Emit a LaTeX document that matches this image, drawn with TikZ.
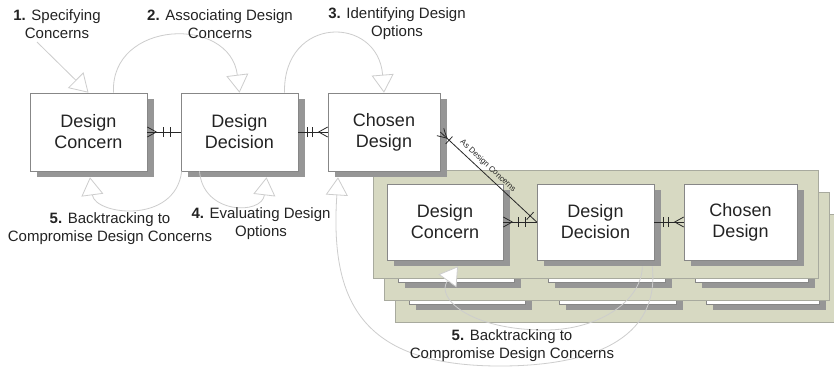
\documentclass[tikz,border=0pt]{standalone}
\usepackage{fontspec}
\setmainfont{Liberation Sans}
\usetikzlibrary{arrows.meta,calc}
\definecolor{panelfill}{RGB}{215,217,194}
\definecolor{paneldraw}{RGB}{168,170,158}
\definecolor{shadowgray}{RGB}{150,150,150}
\definecolor{boxdraw}{RGB}{135,135,135}
\definecolor{flowgray}{RGB}{205,205,205}
\definecolor{inkc}{RGB}{40,40,40}
\definecolor{textc}{RGB}{35,35,35}
\newcommand\crowfoot[2]{\draw[conn] ($(#1)!5pt!90:(#2)$) -- ($(#1)!9pt!(#2)$) -- ($(#1)!5pt!-90:(#2)$);}
\newcommand\tickbar[3]{\draw[conn] ($(#1)!#3!(#2)!5pt!90:(#2)$) -- ($(#1)!#3!(#2)!5pt!-90:(#2)$);}
\begin{document}
\begin{tikzpicture}[x=1pt,y=-1pt,
  shadowed/.style={preaction={fill=shadowgray, draw=none, transform canvas={xshift=7pt,yshift=-6pt}}},
  box/.style={shadowed, draw=boxdraw, line width=0.6pt, fill=white, minimum height=78pt, inner sep=0pt, align=center, text=textc, font=\fontsize{18}{21}\selectfont},
  ibox/.style={box, minimum height=76pt},
  panel/.style={draw=paneldraw, line width=0.7pt, fill=panelfill, minimum width=445pt, minimum height=108pt, inner sep=0pt, anchor=north west},
  lbl/.style={align=center, inner sep=0pt, text=textc, font=\fontsize{15}{18}\selectfont},
  flow/.style={draw=flowgray, line width=0.8pt, -{Triangle[open, fill=white, length=18pt, width=22pt]}},
  conn/.style={draw=inkc, line width=0.8pt},
]
\useasboundingbox (0,0) rectangle (834,368);
\fill[white] (0,0) rectangle (834,368);

% stacked panels (back to front)
\node[panel] (p3) at (395,214) {};
\node[ibox, minimum width=116pt] (dc3) at (467,266) {};
\node[ibox, minimum width=117pt] (dd3) at (617.5,266) {};
\node[ibox, minimum width=113pt] (cd3) at (762.5,266) {};
\node[panel] (p2) at (384,192) {};
\node[ibox, minimum width=116pt] (dc2b) at (456,244) {};
\node[ibox, minimum width=117pt] (dd2b) at (606.5,244) {};
\node[ibox, minimum width=113pt] (cd2b) at (751.5,244) {};
\node[panel] (p1) at (373,170) {};
\node[ibox, minimum width=116pt] (dc2) at (445,222) {Design\\Concern};
\node[ibox, minimum width=117pt] (dd2) at (595.5,222) {Design\\Decision};
\node[ibox, minimum width=113pt] (cd2) at (740.5,222) {Chosen\\Design};

% top row
\node[box, minimum width=117pt] (dc) at (88.5,132) {Design\\Concern};
\node[box, minimum width=117pt] (dd) at (239.5,132) {Design\\Decision};
\node[box, minimum width=112pt] (cd) at (384,132) {Chosen\\Design};

% ER connectors
\draw[conn] (dc.east) -- (dd.west);
\crowfoot{dc.east}{dd.west}
\tickbar{dc.east}{dd.west}{16pt}
\tickbar{dc.east}{dd.west}{23pt}
\draw[conn] (dd.east) -- (cd.west);
\crowfoot{cd.west}{dd.east}
\tickbar{cd.west}{dd.east}{15pt}
\tickbar{cd.west}{dd.east}{20pt}
\draw[conn] (dc2.east) -- (dd2.west);
\crowfoot{dc2.east}{dd2.west}
\tickbar{dc2.east}{dd2.west}{15pt}
\tickbar{dc2.east}{dd2.west}{22pt}
\draw[conn] (dd2.east) -- (cd2.west);
\crowfoot{cd2.west}{dd2.east}
\tickbar{cd2.west}{dd2.east}{15pt}
\tickbar{cd2.west}{dd2.east}{20pt}
\draw[conn] (cd.east) -- node[sloped, above=3.5pt, pos=0.44, inner sep=0pt, text=textc, font=\fontsize{8}{9}\selectfont] {As Design Concerns} (dd2.west);
\crowfoot{cd.east}{dd2.west}
\tickbar{cd.east}{dd2.west}{12pt}
\tickbar{dd2.west}{cd.east}{9pt}

% process arrows
\coordinate (s1) at (37,42);
\draw[flow] (s1) -- (dc.north);
\draw[flow] ([xshift=25pt]dc.north) .. controls (110,20) and (230,15) .. (dd.north);
\draw[flow] ([xshift=45pt]dd.north) .. controls (283,15) and (378,15) .. (cd.north);
\draw[flow] ([xshift=-40pt]dd.south) .. controls (203,215) and (262,215) .. ([xshift=27pt,yshift=-6pt]dd.south);
\draw[flow] ([xshift=1pt]dd.south west) .. controls (175,225) and (95,215) .. ([xshift=1.5pt,yshift=-6pt]dc.south);
\draw[flow] ([xshift=-2pt,yshift=-6pt]dd2.south east) .. controls (660,340) and (590,366) .. (500,366) .. controls (360,366) and (330,300) .. ([xshift=-46pt,yshift=-6pt]cd.south);
\draw[flow] ([xshift=-12pt,yshift=-6pt]dd2.south east) .. controls (642,300) and (600,330) .. (545,330) .. controls (470,330) and (435,298) .. ([xshift=13pt,yshift=-6pt]dc2.south);

% labels
\node[lbl] (l1) at (57,24) {\textbf{1.} Specifying\\Concerns};
\node[lbl] (l2) at (220,24) {\textbf{2.} Associating Design\\Concerns};
\node[lbl] (l3) at (397,24) {\textbf{3.} Identifying Design\\Options};
\node[lbl] (l4) at (261,224) {\textbf{4.} Evaluating Design\\Options};
\node[lbl] (l5) at (110,229) {\textbf{5.} Backtracking to\\Compromise Design Concerns};
\node[lbl] (l6) at (512,346) {\textbf{5.} Backtracking to\\Compromise Design Concerns};
\end{tikzpicture}
\end{document}
